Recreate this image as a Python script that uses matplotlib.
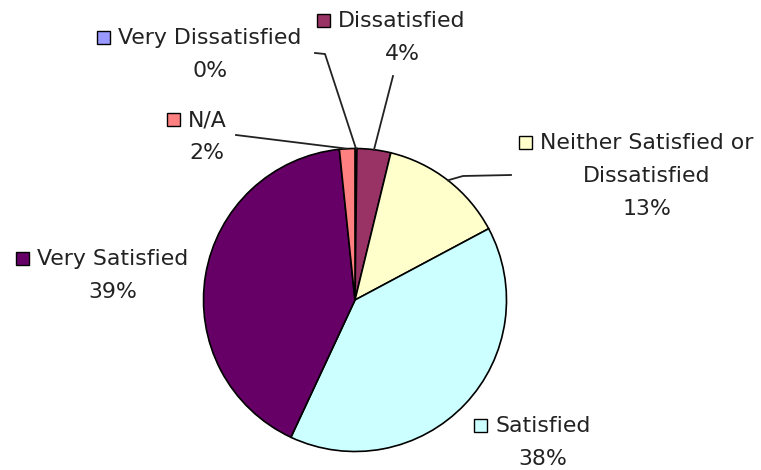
import numpy as np
import matplotlib
matplotlib.use('Agg')
import matplotlib.pyplot as plt
from matplotlib.patches import Rectangle

# survey answers (clockwise from 12 o'clock)
categories = ['Very Dissatisfied', 'Dissatisfied', 'Neither Satisfied or\nDissatisfied',
              'Satisfied', 'Very Satisfied', 'N/A']
shares = [0.2, 3.6, 13.4, 39.75, 41.4, 1.65]
pct_labels = ['0%', '4%', '13%', '38%', '39%', '2%']
colors = ['#9999FF', '#993366', '#FFFFCC', '#CCFFFF', '#660066', '#FF8080']

# label layout in pixels (center x, first baseline y)
label_x = [210, 402, 647, 543, 113, 207]
label_y = [44, 27, 149, 432, 265, 126]
line_step = 33
# leader line points on the label side
leaders = [[(315, 53), (325, 54)], [(393, 76)], [(511, 175), (463, 176)],
           [], [], [(236, 135)]]

fig = plt.figure(figsize=(7.61, 4.70), dpi=100)
ax = fig.add_axes([0, 0, 1, 1])

cx, cy, r = 355, 300, 151.5
wedges, _ = ax.pie(shares, colors=colors, startangle=270, counterclock=True,
                   center=(cx, cy), radius=r,
                   wedgeprops=dict(edgecolor='black', linewidth=1.2))
ax.set_xlim(0, 761)
ax.set_ylim(470, 0)
ax.set_aspect('equal')
ax.axis('off')

fs = 15.8
first_lines = []
for i, name in enumerate(categories):
    lines = name.split('\n') + [pct_labels[i]]
    for k, ln in enumerate(lines):
        t = ax.text(label_x[i], label_y[i] + k * line_step, ln, ha='center',
                    va='baseline', fontsize=fs, color='#222222')
        if k == 0:
            first_lines.append(t)

    # leader line from label to wedge edge
    if leaders[i]:
        w = wedges[i]
        mid = np.deg2rad((w.theta1 + w.theta2) / 2)
        end = (cx + r * np.cos(mid), cy + r * np.sin(mid))
        pts = leaders[i] + [end]
        ax.plot([p[0] for p in pts], [p[1] for p in pts], color='#222222', lw=1.3)

# legend keys to the left of the first line of each label
fig.canvas.draw()
inv = ax.transData.inverted()
for i, t in enumerate(first_lines):
    bb = t.get_window_extent()
    x0 = inv.transform((bb.x0, bb.y0))[0]
    size = 13
    ax.add_patch(Rectangle((x0 - 8 - size, label_y[i] - size), size, size,
                           facecolor=colors[i], edgecolor='black', lw=1))

fig.savefig('out.png', dpi=100)
